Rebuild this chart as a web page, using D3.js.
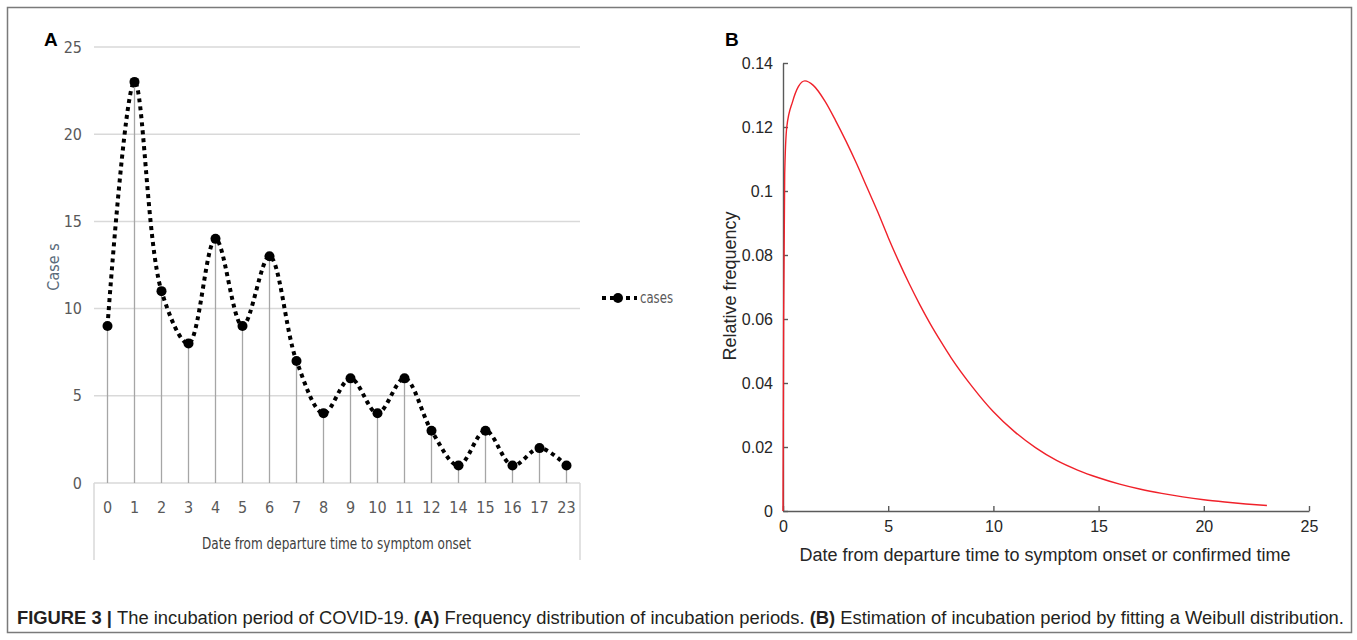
<!DOCTYPE html>
<html>
<head>
<meta charset="utf-8">
<script src="https://cdn.jsdelivr.net/npm/d3@7"></script>
<style>
  body { margin: 0; background: #fff; }
  svg { display: block; }
</style>
</head>
<body>
<div id="viz"></div>
<script>
// panel A data
var days = ['0','1','2','3','4','5','6','7','8','9','10','11','12','14','15','16','17','23'];
var cases = [9, 23, 11, 8, 14, 9, 13, 7, 4, 6, 4, 6, 3, 1, 3, 1, 2, 1];
var casesTicks = [0, 5, 10, 15, 20, 25];

// panel B data
var fitX = [0, 0.03, 0.08, 0.18, 0.46, 0.73, 1.04, 1.44, 2, 2.5, 3, 3.5, 4, 4.5, 5, 5.5, 6, 6.5, 7, 7.5, 8, 9, 10, 11, 12, 13, 14, 15, 16, 17, 18, 19, 20, 21, 22, 23];
var fitY = [0, 0.06, 0.105, 0.12, 0.128, 0.1326, 0.1344, 0.133, 0.128, 0.122, 0.1155, 0.1085, 0.101, 0.0935, 0.0855, 0.078, 0.071, 0.0645, 0.0585, 0.053, 0.0478, 0.0388, 0.031, 0.0248, 0.0198, 0.0158, 0.0128, 0.0104, 0.0084, 0.0068, 0.0055, 0.0044, 0.0035, 0.0028, 0.0022, 0.0017];
var freqTicks = [0, 0.02, 0.04, 0.06, 0.08, 0.1, 0.12, 0.14];
var dayTicks = [0, 5, 10, 15, 20, 25];

var W = 1357, H = 640;
var narrow = '"Liberation Sans Narrow", "DejaVu Sans Condensed", sans-serif';
var arial = '"Liberation Sans", Arial, sans-serif';

var svg = d3.select('#viz').append('svg')
  .attr('width', W)
  .attr('height', H);

// outer frame
svg.append('rect')
  .attr('x', 7.5).attr('y', 7.5)
  .attr('width', 1344).attr('height', 625)
  .attr('fill', 'none')
  .attr('stroke', '#7a7a7a')
  .attr('stroke-width', 1.5);

// ---------- panel A ----------
var aLeft = 94, aRight = 580, aTop = 47, aBottom = 483;

var xA = d3.scaleBand()
  .domain(days)
  .range([aLeft, aRight]);

var yA = d3.scaleLinear()
  .domain([0, 25])
  .range([aBottom, aTop]);

var gA = svg.append('g');

// gridlines
gA.selectAll('line.grid').data(casesTicks)
  .enter().append('line')
  .attr('class', 'grid')
  .attr('x1', aLeft).attr('x2', aRight)
  .attr('y1', function(d) { return yA(d); })
  .attr('y2', function(d) { return yA(d); })
  .attr('stroke', '#d9d9d9')
  .attr('stroke-width', 1.5);

// box under the category axis
gA.selectAll('line.box').data([aLeft, aRight])
  .enter().append('line')
  .attr('class', 'box')
  .attr('x1', function(d) { return d; })
  .attr('x2', function(d) { return d; })
  .attr('y1', aBottom).attr('y2', 560)
  .attr('stroke', '#d9d9d9')
  .attr('stroke-width', 1.5);

var yAxisA = d3.axisLeft(yA).tickValues(casesTicks).tickSize(0).tickPadding(12);
gA.append('g')
  .attr('transform', 'translate(' + aLeft + ',0)')
  .call(yAxisA)
  .call(function(g) { g.select('.domain').remove(); })
  .selectAll('text')
  .style('font-family', narrow)
  .style('font-size', '16px')
  .attr('fill', '#595959');

var xAxisA = d3.axisBottom(xA).tickSize(0).tickPadding(19);
gA.append('g')
  .attr('transform', 'translate(0,' + aBottom + ')')
  .call(xAxisA)
  .call(function(g) { g.select('.domain').remove(); })
  .selectAll('text')
  .style('font-family', narrow)
  .style('font-size', '16px')
  .attr('fill', '#595959');

// drop lines
gA.selectAll('line.drop').data(cases)
  .enter().append('line')
  .attr('class', 'drop')
  .attr('x1', function(d, i) { return xA(days[i]) + xA.bandwidth() / 2; })
  .attr('x2', function(d, i) { return xA(days[i]) + xA.bandwidth() / 2; })
  .attr('y1', function(d) { return yA(d); })
  .attr('y2', aBottom)
  .attr('stroke', '#a6a6a6')
  .attr('stroke-width', 1.3);

var lineA = d3.line()
  .x(function(d, i) { return xA(days[i]) + xA.bandwidth() / 2; })
  .y(function(d) { return yA(d); })
  .curve(d3.curveCatmullRom.alpha(0.5));

gA.append('path')
  .datum(cases)
  .attr('d', lineA)
  .attr('fill', 'none')
  .attr('stroke', '#000')
  .attr('stroke-width', 4)
  .attr('stroke-dasharray', '4,4');

gA.selectAll('circle').data(cases)
  .enter().append('circle')
  .attr('cx', function(d, i) { return xA(days[i]) + xA.bandwidth() / 2; })
  .attr('cy', function(d) { return yA(d); })
  .attr('r', 5)
  .attr('fill', '#000');

gA.append('text')
  .attr('transform', 'translate(59,267) rotate(-90)')
  .attr('text-anchor', 'middle')
  .style('font-family', narrow)
  .style('font-size', '16px')
  .attr('fill', '#5b6b7b')
  .text('Case s');

gA.append('text')
  .attr('x', 202).attr('y', 549)
  .attr('textLength', 269)
  .attr('lengthAdjust', 'spacingAndGlyphs')
  .style('font-family', narrow)
  .style('font-size', '16px')
  .attr('fill', '#404040')
  .text('Date from departure time to symptom onset');

// legend
var leg = gA.append('g').attr('transform', 'translate(602,298)');
leg.append('line')
  .attr('x1', 0).attr('x2', 35)
  .attr('stroke', '#000')
  .attr('stroke-width', 4)
  .attr('stroke-dasharray', '4,4');
leg.append('circle').attr('cx', 16).attr('r', 5).attr('fill', '#000');
leg.append('text')
  .attr('x', 38).attr('y', 5)
  .attr('textLength', 33)
  .attr('lengthAdjust', 'spacingAndGlyphs')
  .style('font-family', narrow)
  .style('font-size', '16px')
  .attr('fill', '#595959')
  .text('cases');

gA.append('text')
  .attr('x', 44).attr('y', 46)
  .style('font-family', arial)
  .style('font-weight', 'bold')
  .style('font-size', '19px')
  .text('A');

// ---------- panel B ----------
var bLeft = 783, bRight = 1309, bTop = 63, bBottom = 511;

var xB = d3.scaleLinear().domain([0, 25]).range([bLeft, bRight]);
var yB = d3.scaleLinear().domain([0, 0.14]).range([bBottom, bTop]);

var gB = svg.append('g');

var xAxisB = d3.axisBottom(xB).tickValues(dayTicks).tickSize(-5).tickSizeOuter(0).tickPadding(10);
var yAxisB = d3.axisLeft(yB).tickValues(freqTicks).tickSize(-5).tickSizeOuter(0).tickPadding(10)
  .tickFormat(function(d) { return d === 0 ? '0' : String(+d.toFixed(2)); });

gB.append('g')
  .attr('class', 'axisB')
  .attr('transform', 'translate(0,' + bBottom + ')')
  .call(xAxisB);

gB.append('g')
  .attr('class', 'axisB')
  .attr('transform', 'translate(' + bLeft + ',0)')
  .call(yAxisB);

gB.selectAll('.axisB path, .axisB line')
  .attr('stroke', '#5a5a5a')
  .attr('stroke-width', 1.4);
gB.selectAll('.axisB text')
  .style('font-family', arial)
  .style('font-size', '16px')
  .attr('fill', '#262626');

var lineB = d3.line()
  .x(function(d, i) { return xB(fitX[i]); })
  .y(function(d) { return yB(d); })
  .curve(d3.curveMonotoneX);

gB.append('path')
  .datum(fitY)
  .attr('d', lineB)
  .attr('fill', 'none')
  .attr('stroke', '#f0212a')
  .attr('stroke-width', 1.4);

gB.append('text')
  .attr('x', 1045).attr('y', 561)
  .attr('text-anchor', 'middle')
  .style('font-family', arial)
  .style('font-size', '18px')
  .attr('fill', '#262626')
  .text('Date from departure time to symptom onset or confirmed time');

gB.append('text')
  .attr('transform', 'translate(736,286) rotate(-90)')
  .attr('text-anchor', 'middle')
  .style('font-family', arial)
  .style('font-size', '18px')
  .attr('fill', '#262626')
  .text('Relative frequency');

gB.append('text')
  .attr('x', 725).attr('y', 46)
  .style('font-family', arial)
  .style('font-weight', 'bold')
  .style('font-size', '19px')
  .text('B');

// ---------- caption ----------
var cap = svg.append('text')
  .attr('x', 0).attr('y', 0)
  .style('font-family', arial)
  .style('font-size', '19px')
  .attr('fill', '#231f20');
var parts = [
  ['FIGURE 3 | ', true], ['The incubation period of COVID-19. ', false],
  ['(A)', true], [' Frequency distribution of incubation periods. ', false],
  ['(B)', true], [' Estimation of incubation period by fitting a Weibull distribution.', false]
];
parts.forEach(function(p) {
  cap.append('tspan')
    .style('font-weight', p[1] ? 'bold' : 'normal')
    .text(p[0]);
});
// squeeze caption to the reference width
var capW = cap.node().getComputedTextLength();
cap.attr('transform', 'translate(17,624) scale(' + (1328 / capW) + ',1)');
</script>
</body>
</html>
